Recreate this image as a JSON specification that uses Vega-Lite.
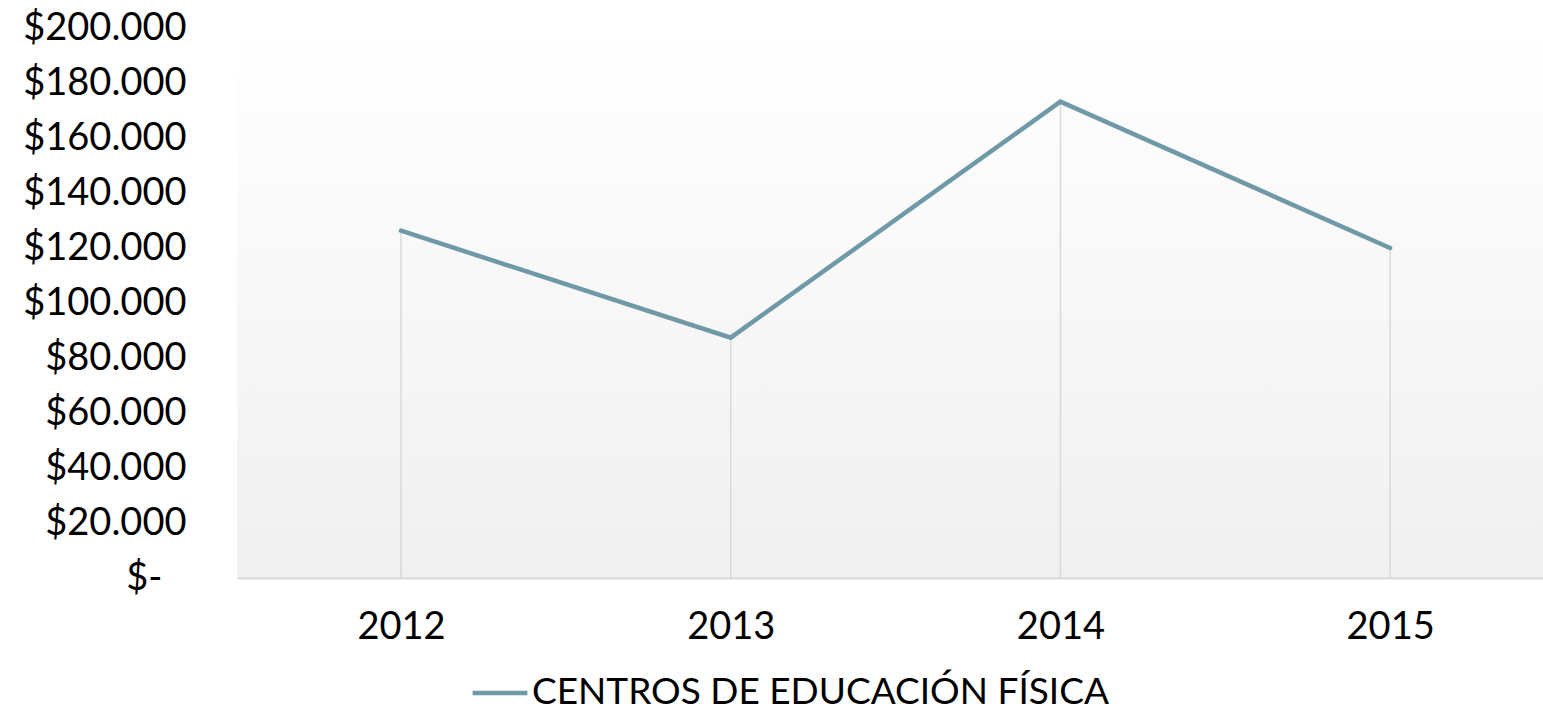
{
  "$schema": "https://vega.github.io/schema/vega-lite/v6.json",
  "width": 1306,
  "height": 550,
  "autosize": {"type": "none"},
  "padding": {"left": 237, "top": 28, "right": 0, "bottom": 136},
  "background": "#ffffff",
  "view": {
    "stroke": null,
    "fill": {
      "gradient": "linear",
      "x1": 0, "y1": 0, "x2": 0, "y2": 1,
      "stops": [
        {"offset": 0, "color": "#ffffff"},
        {"offset": 1, "color": "#f0f0f0"}
      ]
    }
  },
  "config": {
    "font": "Lato",
    "axis": {"labelFont": "Lato", "labelColor": "#000000"},
    "legend": {"labelFont": "Lato", "labelColor": "#000000"}
  },
  "data": {
    "values": [
      {"year": "2012", "value": 126300, "serie": "CENTROS DE EDUCACIÓN FÍSICA"},
      {"year": "2013", "value": 87400, "serie": "CENTROS DE EDUCACIÓN FÍSICA"},
      {"year": "2014", "value": 173200, "serie": "CENTROS DE EDUCACIÓN FÍSICA"},
      {"year": "2015", "value": 120000, "serie": "CENTROS DE EDUCACIÓN FÍSICA"}
    ]
  },
  "encoding": {
    "x": {
      "field": "year",
      "type": "ordinal",
      "scale": {"type": "point", "padding": 0.4806, "align": 0.5176},
      "axis": {
        "title": null,
        "labelAngle": 0,
        "labelFontSize": 38,
        "labelPadding": 30,
        "ticks": false,
        "domainColor": "#d9d9d9",
        "domainWidth": 2,
        "grid": false
      }
    }
  },
  "layer": [
    {
      "mark": {"type": "rule", "color": "#d9d9d9", "strokeWidth": 1.5},
      "encoding": {
        "y": {"field": "value", "type": "quantitative", "scale": {"domain": [0, 200000], "nice": false}},
        "y2": {"datum": 0}
      }
    },
    {
      "mark": {"type": "line", "strokeWidth": 4.5, "strokeCap": "round", "strokeJoin": "miter"},
      "encoding": {
        "y": {
          "field": "value",
          "type": "quantitative",
          "scale": {"domain": [0, 200000], "nice": false},
          "axis": {
            "title": null,
            "values": [0, 20000, 40000, 60000, 80000, 100000, 120000, 140000, 160000, 180000, 200000],
            "labelExpr": "datum.value === 0 ? '$-' : '$' + floor(datum.value / 1000) + '.000'",
            "labelFontSize": 38,
            "labelPadding": {"condition": {"test": "datum.value === 0", "value": 75}, "value": 51},
            "ticks": false,
            "domain": false,
            "grid": false
          }
        },
        "color": {
          "field": "serie",
          "type": "nominal",
          "scale": {"range": ["#6f99a7"]},
          "legend": {
            "title": null,
            "orient": "none",
            "legendX": 233,
            "legendY": 635,
            "symbolType": "stroke",
            "symbolStrokeWidth": 4.5,
            "symbolSize": 3000,
            "labelFontSize": 37,
            "labelLimit": 0,
            "labelOffset": 2,
            "padding": 0
          }
        }
      }
    }
  ]
}
